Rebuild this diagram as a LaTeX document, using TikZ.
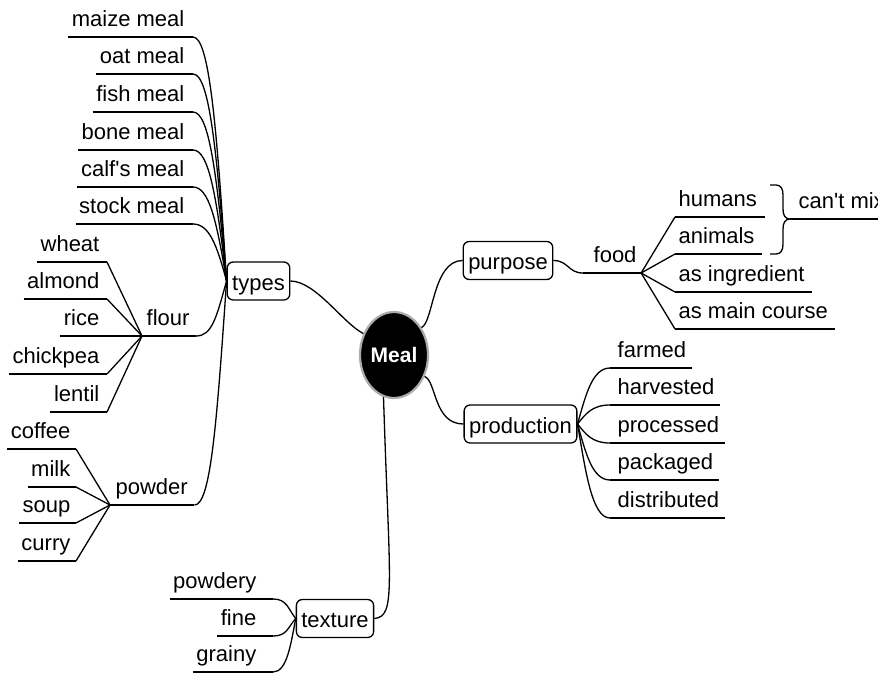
\documentclass[tikz,border=0pt]{standalone}
\usepackage{fontspec}
\setmainfont{Liberation Sans}[Ligatures=TeXOff]
\usetikzlibrary{shapes.geometric}

\begin{document}
\begin{tikzpicture}[x=1pt,y=-1pt,
  line width=1.3pt,
  lpad/.initial=3pt, rpad/.initial=8pt,
  mapfont/.style={font=\fontsize{22}{26}\selectfont},
  leaf/.style={mapfont, inner xsep=0pt, inner ysep=5pt, text height=16pt, text depth=5pt,
    execute at begin node={\hspace*{\pgfkeysvalueof{/tikz/lpad}}},
    execute at end node={\hspace*{\pgfkeysvalueof{/tikz/rpad}}}},
  topic/.style={draw, rounded corners=6pt, mapfont, inner xsep=5pt,
    minimum height=38pt, text height=20pt, text depth=2pt},
  root/.style={ellipse, fill=black, draw=gray!65, line width=2.2pt,
    minimum width=68pt, minimum height=86pt, inner sep=0pt, text=white,
    font=\fontsize{21}{25}\selectfont\bfseries}
]
\useasboundingbox (0,0) rectangle (878,673);
\clip (0,0) rectangle (878,673);

% central topic and main branches
\node[root] (meal) at (394,355) {Meal};
\node[topic] (types) at (258.5,281) {types};
\node[topic] (purpose) at (508,260.5) {purpose};
\node[topic] (production) at (520.5,424) {production};
\node[topic] (texture) at (335,618.5) {texture};

% types
\node[leaf, anchor=south east] (maize) at (193,37) {maize meal};
\node[leaf, anchor=south east] (oat) at (193,74) {oat meal};
\node[leaf, anchor=south east] (fish) at (193,112) {fish meal};
\node[leaf, anchor=south east] (bone) at (193,150) {bone meal};
\node[leaf, anchor=south east] (calf) at (193,187) {calf's meal};
\node[leaf, anchor=south east] (stock) at (193,224) {stock meal};
\node[leaf, anchor=south west, lpad=4pt, rpad=6pt] (flour) at (142,336) {flour};
\node[leaf, anchor=south west, lpad=5pt, rpad=6pt] (powder) at (110,505) {powder};

% flour kinds
\node[leaf, anchor=south east, rpad=7pt] (wheat) at (107,262) {wheat};
\node[leaf, anchor=south east, rpad=7pt] (almond) at (107,299) {almond};
\node[leaf, anchor=south east, rpad=7pt] (rice) at (107,336) {rice};
\node[leaf, anchor=south east, rpad=7pt] (chickpea) at (107,374) {chickpea};
\node[leaf, anchor=south east, rpad=7pt] (lentil) at (107,412) {lentil};

% powder kinds
\node[leaf, anchor=south east, rpad=5pt] (coffee) at (76,449) {coffee};
\node[leaf, anchor=south east, rpad=5pt] (milk) at (76,487) {milk};
\node[leaf, anchor=south east, rpad=5pt] (soup) at (76,523) {soup};
\node[leaf, anchor=south east, rpad=5pt] (curry) at (76,561) {curry};

% texture
\node[leaf, anchor=south east, rpad=16pt] (powdery) at (273,599) {powdery};
\node[leaf, anchor=south east, rpad=16pt] (fine) at (273,636) {fine};
\node[leaf, anchor=south east, rpad=16pt] (grainy) at (273,672) {grainy};

% purpose
\node[leaf, anchor=south west, lpad=10pt, rpad=4pt] (food) at (583,273) {food};
\node[leaf, anchor=south west, rpad=7pt] (humans) at (675,217) {humans};
\node[leaf, anchor=south west, rpad=7pt] (animals) at (675,254) {animals};
\node[leaf, anchor=south west, rpad=7pt] (ingredient) at (675,292) {as ingredient};
\node[leaf, anchor=south west, rpad=7pt] (maincourse) at (675,329) {as main course};
\coordinate (bracetip) at (790,219);
\node[leaf, anchor=south west, lpad=8pt] (cantmix) at (bracetip) {can't mix};

% production
\node[leaf, anchor=south west, lpad=7pt, rpad=5pt] (farmed) at (610,368) {farmed};
\node[leaf, anchor=south west, lpad=7pt, rpad=5pt] (harvested) at (610,405) {harvested};
\node[leaf, anchor=south west, lpad=7pt, rpad=5pt] (processed) at (610,443) {processed};
\node[leaf, anchor=south west, lpad=7pt, rpad=5pt] (packaged) at (610,480) {packaged};
\node[leaf, anchor=south west, lpad=7pt, rpad=5pt] (distributed) at (610,518) {distributed};

% underlines of the text topics
\foreach \n in {maize,oat,fish,bone,calf,stock,flour,powder,wheat,almond,rice,chickpea,lentil,
  coffee,milk,soup,curry,powdery,fine,grainy,food,humans,animals,ingredient,maincourse,cantmix,
  farmed,harvested,processed,packaged,distributed}
  \draw (\n.south west) -- (\n.south east);

% central connectors
\draw (meal.145) .. controls +(-20,-10) and +(25,0) .. (types.east);
\draw (meal.45) .. controls +(12,-5) and +(-30,0) .. (purpose.west);
\draw (meal.-35) .. controls +(12,5) and +(-30,0) .. (production.west);
\draw (meal.-104) .. controls +(6,190) and +(22,-2) .. (texture.east);

% types branch
\foreach \n/\c in {maize/-159,oat/-135,fish/-110,bone/-85,calf/-61,stock/-37,flour/36,powder/146}
  \draw (\n.south east) .. controls +(16,0) and +(-10,\c) .. (types.west);
\foreach \n in {wheat,almond,rice,chickpea,lentil}
  \draw (\n.south east) -- (flour.south west);
\foreach \n in {coffee,milk,soup,curry}
  \draw (\n.south east) -- (powder.south west);

% texture branch
\foreach \n/\dx/\dy in {powdery/-8/-10,fine/-8/9,grainy/-5/26}
  \draw (\n.south east) .. controls +(14,0) and +(\dx,\dy) .. (texture.west);

% purpose branch
\draw (purpose.east) .. controls +(15,0) and +(-15,0) .. (food.south west);
\foreach \n in {humans,animals,ingredient,maincourse}
  \draw (food.south east) -- (\n.south west);
\draw (770,185) -- (776,185) .. controls (781,185) and (783,189) .. (783,195)
  -- (783,209) .. controls (783,215) and (785,219) .. (bracetip)
  .. controls (785,219) and (783,223) .. (783,229)
  -- (783,244) .. controls (783,250) and (781,254) .. (776,254) -- (770,254);

% production branch
\foreach \n/\c in {farmed/-28,harvested/-10,processed/10,packaged/28,distributed/47}
  \draw (production.east) .. controls +(8,\c) and +(-18,0) .. (\n.south west);
\end{tikzpicture}
\end{document}
